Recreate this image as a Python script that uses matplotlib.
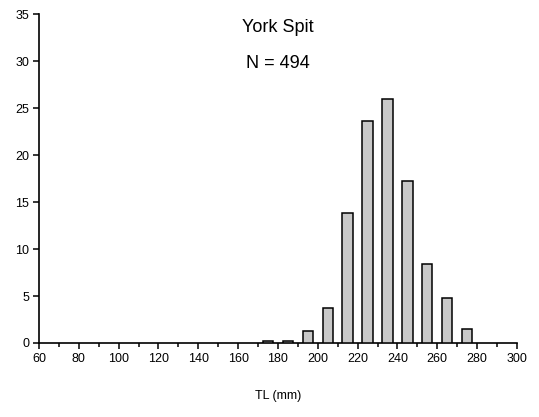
import matplotlib
matplotlib.use("Agg")
import matplotlib.pyplot as plt
from matplotlib.ticker import MultipleLocator

plt.rcParams['font.family'] = ['Liberation Sans', 'DejaVu Sans']

# Data (percent frequency by TL class midpoint)
tl_mid = [175, 185, 195, 205, 215, 225, 235, 245, 255, 265, 275]
percent = [0.2, 0.2, 1.25, 3.75, 13.8, 23.6, 26.0, 17.2, 8.4, 4.75, 1.5]
title = "York Spit"
n_label = "N = 494"
x_ticks = list(range(60, 301, 20))
y_ticks = list(range(0, 36, 5))

fig = plt.figure(figsize=(5.39, 4.17), dpi=100)
ax = fig.add_axes([0.0724, 0.1775, 0.8866, 0.7885])

ax.bar(tl_mid, percent, width=5.2, color='#c8c8c8', edgecolor='black',
       linewidth=1.1, zorder=3)

ax.set_xlim(60, 300)
ax.set_ylim(0, 35)
ax.set_xticks(x_ticks)
ax.set_yticks(y_ticks)
ax.xaxis.set_minor_locator(MultipleLocator(10))
for s in ['top', 'right']:
    ax.spines[s].set_visible(False)
for s in ['left', 'bottom']:
    ax.spines[s].set_linewidth(1.2)
ax.tick_params(axis='both', which='major', direction='out', length=4, width=1.1,
               labelsize=9, pad=3)
ax.tick_params(axis='x', which='minor', direction='out', length=3, width=1.1)

ax.text(180, 33.6, title, ha='center', va='center', fontsize=13)
ax.text(180, 29.8, n_label, ha='center', va='center', fontsize=13)

ax.set_xlabel("TL (mm)", fontsize=9, labelpad=18)

fig.savefig("out.png", dpi=100)
